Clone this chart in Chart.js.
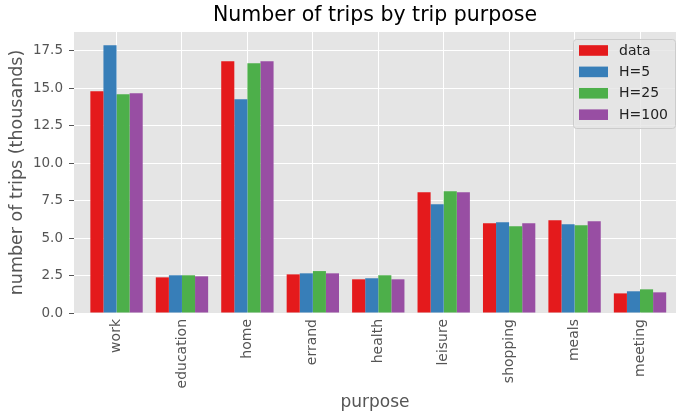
<!DOCTYPE html>
<html>
<head>
<meta charset="utf-8">
<script src="https://cdn.jsdelivr.net/npm/chart.js@4.4.1/dist/chart.umd.min.js"></script>
<style>
  html, body { margin: 0; padding: 0; background: #fff; }
  #wrap { width: 678px; height: 413px; }
</style>
</head>
<body>
<div id="wrap"><canvas id="tripsChart"></canvas></div>
<script>
// --- Data (thousands of trips) ---
const categories = ['work', 'education', 'home', 'errand', 'health', 'leisure', 'shopping', 'meals', 'meeting'];
const dataTrips = [14.81, 2.38, 16.81, 2.58, 2.25, 8.06, 5.99, 6.19, 1.31];
const h5Trips = [17.88, 2.52, 14.27, 2.65, 2.32, 7.26, 6.06, 5.92, 1.45];
const h25Trips = [14.61, 2.52, 16.68, 2.80, 2.52, 8.13, 5.79, 5.86, 1.58];
const h100Trips = [14.68, 2.45, 16.81, 2.65, 2.25, 8.06, 5.99, 6.12, 1.38];
const yTicks = [0, 2.5, 5, 7.5, 10, 12.5, 15, 17.5];

const seriesLabels = ['data', 'H=5', 'H=25', 'H=100'];
const seriesColors = ['#e41a1c', '#377eb8', '#4daf4a', '#984ea3'];

const FONT = "'DejaVu Sans', sans-serif";

// bars sit on a linear x axis so the side margins can match the picture
const toPoints = (vals) => vals.map((v, i) => ({ x: i, y: v }));

// --- Plugins ---
const plotBackground = {
    id: 'plotBackground',
    beforeDraw(chart) {
        const { ctx, chartArea: a } = chart;
        ctx.save();
        ctx.fillStyle = '#e5e5e5';
        ctx.fillRect(a.left, a.top, a.right - a.left, a.bottom - a.top);
        ctx.restore();
    }
};

// legend box drawn inside the plot, top right
const innerLegend = {
    id: 'innerLegend',
    afterDatasetsDraw(chart) {
        const { ctx, chartArea: a } = chart;
        const boxW = 102, boxH = 89;
        const x0 = a.right - boxW - 1, y0 = a.top + 7;
        ctx.save();
        ctx.fillStyle = 'rgba(229,229,229,0.8)';
        ctx.strokeStyle = '#cccccc';
        ctx.lineWidth = 1;
        ctx.beginPath();
        ctx.roundRect(x0 + 0.5, y0 + 0.5, boxW, boxH, 3);
        ctx.fill();
        ctx.stroke();
        ctx.font = '14px ' + FONT;
        ctx.textBaseline = 'middle';
        chart.data.datasets.forEach((ds, i) => {
            const cy = y0 + 11.5 + i * 21.4;
            ctx.fillStyle = ds.backgroundColor;
            ctx.fillRect(x0 + 6, cy - 5.3, 29, 10.6);
            ctx.fillStyle = '#222222';
            ctx.fillText(ds.label, x0 + 46, cy + 0.5);
        });
        ctx.restore();
    }
};

const datasets = [dataTrips, h5Trips, h25Trips, h100Trips].map((vals, i) => ({
    label: seriesLabels[i],
    data: toPoints(vals),
    backgroundColor: seriesColors[i],
    borderWidth: 0,
    categoryPercentage: 0.8,
    barPercentage: 1.0
}));

new Chart(document.getElementById('tripsChart'), {
    type: 'bar',
    data: { datasets },
    plugins: [plotBackground, innerLegend],
    options: {
        responsive: true,
        maintainAspectRatio: false,
        animation: false,
        layout: { padding: { left: 0, right: 2, top: 0, bottom: 0 } },
        plugins: {
            legend: { display: false },
            tooltip: { enabled: false },
            title: {
                display: true,
                text: 'Number of trips by trip purpose',
                fullSize: false,
                color: '#000000',
                font: { family: FONT, size: 20.5, weight: 'normal', lineHeight: 1.17 },
                padding: { top: 4, bottom: 4 }
            }
        },
        scales: {
            x: {
                type: 'linear',
                min: -0.65,
                max: 8.55,
                offset: false,
                afterBuildTicks: (s) => { s.ticks = categories.map((c, i) => ({ value: i })); },
                afterFit: (s) => { s.height = 100; },
                grid: { color: '#ffffff', lineWidth: 1, offset: false, drawTicks: false },
                border: { display: false },
                ticks: {
                    autoSkip: false,
                    maxRotation: 90,
                    minRotation: 90,
                    padding: 6,
                    color: '#555555',
                    font: { family: FONT, size: 14 },
                    callback: (v) => categories[v]
                },
                title: {
                    display: true,
                    text: 'purpose',
                    color: '#555555',
                    font: { family: FONT, size: 17 },
                    padding: { top: 0, bottom: 0 }
                }
            },
            y: {
                min: 0,
                max: 18.77,
                afterBuildTicks: (s) => { s.ticks = yTicks.map(v => ({ value: v })); },
                afterFit: (s) => { s.width = 74; },
                grid: { color: '#ffffff', lineWidth: 1, tickColor: '#555555', tickLength: 5 },
                border: { display: false },
                ticks: {
                    padding: 6,
                    color: '#555555',
                    font: { family: FONT, size: 13.5 },
                    callback: (v) => v.toFixed(1)
                },
                title: {
                    display: true,
                    text: 'number of trips (thousands)',
                    color: '#555555',
                    font: { family: FONT, size: 17.5 },
                    padding: { top: 7, bottom: 0 }
                }
            }
        }
    }
});
</script>
</body>
</html>
